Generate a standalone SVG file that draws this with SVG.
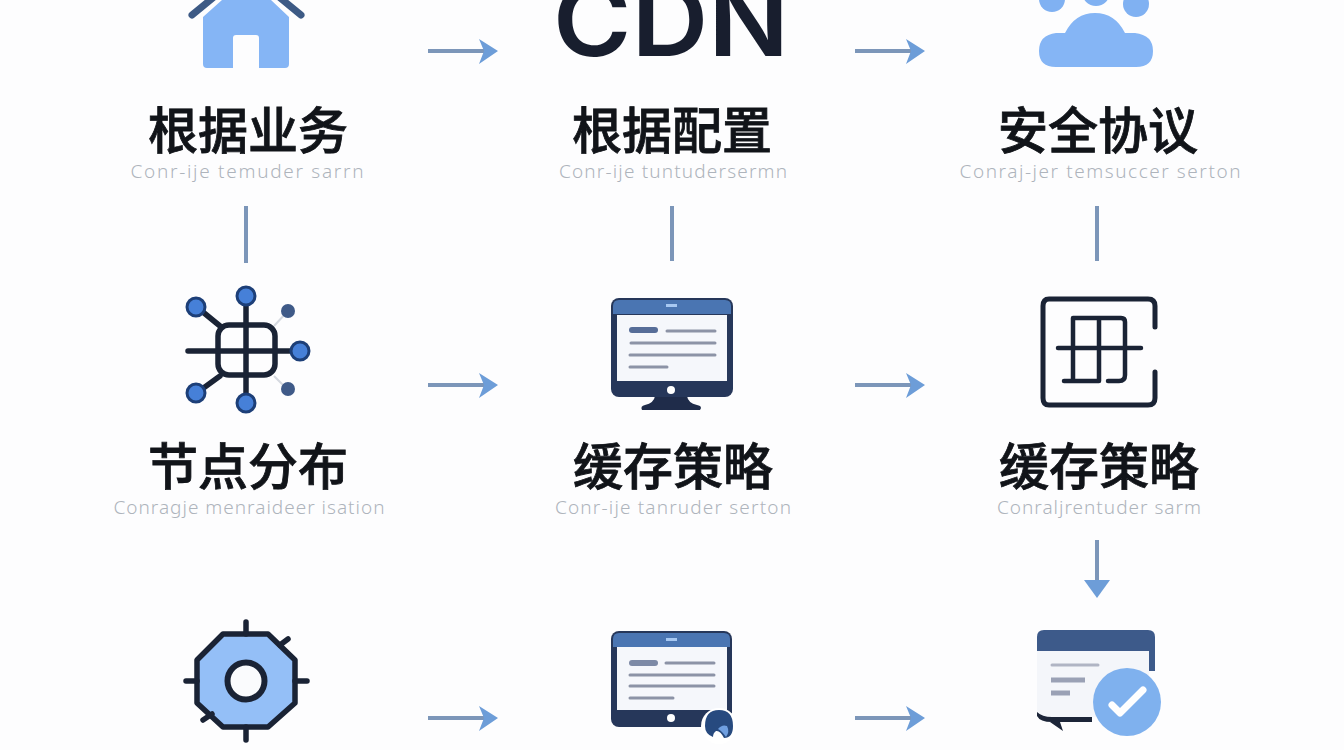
<svg xmlns="http://www.w3.org/2000/svg" width="1344" height="750" viewBox="0 0 1344 750">
<style>
.t{font-family:"Noto Sans CJK SC","Noto Sans",sans-serif;font-size:50px;font-weight:500;fill:#111419;stroke:#111419;stroke-width:.8px;text-anchor:middle}
.s{font-family:"Noto Sans","Liberation Sans",sans-serif;font-size:19px;font-weight:300;fill:#aeb4bc;text-anchor:middle}
.c{fill:none;stroke:#7c96b9;stroke-width:4}
.h{fill:#6d9dd8}
.k{fill:none;stroke:#1a2335;stroke-linecap:round;stroke-linejoin:round}
.g{fill:none;stroke:#8c93a6;stroke-linecap:round}
</style>
<rect width="1344" height="750" fill="#fdfdfe"/>
<g id="connectors">
<path class="c" d="M428 51H488M855 51H914M428 385H488M855 385H914M428 718H488M855 718H914"/>
<path class="h" d="M479 39L498 51L479 64L484 51ZM906 39L925 51L906 64L911 51ZM479 373L498 385L479 398L484 385ZM906 373L925 385L906 398L911 385ZM479 706L498 718L479 731L484 718ZM906 706L925 718L906 731L911 718Z"/>
<path class="c" d="M246 206V263M672 206V261M1097 206V261M1097 540V585"/>
<path class="h" d="M1084 580H1110L1097 598Z"/>
</g>
<g id="n1"><path d="M203 17L222 0H271L289 17V64Q289 68 285 68H259V38Q259 35 256 35H236Q233 35 233 38V68H207Q203 68 203 64Z" fill="#85b5f5"/><path class="k" stroke-width="7" d="M192 15L220 -8M301 15L273 -8" style="stroke:#3d5a85"/><text class="t" x="248" y="149">根据业务</text><text class="s" x="247" y="178" textLength="233" lengthAdjust="spacing">Conr-ije temuder sarrn</text></g>
<g id="n2"><text x="671" y="56" font-family="Inter,'Liberation Sans',sans-serif" font-size="100" font-weight="600" fill="#181e2e" text-anchor="middle" textLength="236" lengthAdjust="spacingAndGlyphs">CDN</text><text class="t" x="672" y="149">根据配置</text><text class="s" x="673" y="178" textLength="228" lengthAdjust="spacing">Conr-ije tuntudersermn</text></g>
<g id="n3"><g fill="#80b1f2"><circle cx="1052" cy="-1" r="13"/><circle cx="1096" cy="-8" r="14"/><circle cx="1136" cy="4" r="13"/></g><path d="M1056 67Q1039 67 1039 51Q1039 35 1056 33H1065Q1075 13 1095 13Q1115 13 1125 33H1135Q1153 35 1153 51Q1153 67 1136 67Z" fill="#85b5f5"/><text class="t" x="1098" y="149">安全协议</text><text class="s" x="1100" y="178" textLength="281" lengthAdjust="spacing">Conraj-jer temsuccer serton</text></g>
<g id="n4"><path d="M274 326L287 312M274 376L287 389" stroke="#d5d9e0" stroke-width="2"/><g class="k" stroke-width="5.5"><rect x="218" y="325" width="57" height="50" rx="11"/><path d="M188 351H300M246 296V404M220 326L198 308M220 376L198 392"/></g><g fill="#4680d8" stroke="#1d3f78" stroke-width="3"><circle cx="196" cy="307" r="9"/><circle cx="246" cy="296" r="9"/><circle cx="300" cy="351" r="9"/><circle cx="196" cy="393" r="9"/><circle cx="246" cy="403" r="9"/></g><circle cx="288" cy="311" r="7" fill="#3f5a88"/><circle cx="288" cy="389" r="7" fill="#3f5a88"/><text class="t" x="248" y="485">节点分布</text><text class="s" x="249" y="514" textLength="271" lengthAdjust="spacing">Conragje menraideer isation</text></g>
<g id="n5"><path d="M655 396Q654 403 645 405Q640 406 642 410H700Q703 406 697 405Q688 403 687 396Z" fill="#1f2c4a"/><rect x="611" y="298" width="122" height="99" rx="8" fill="#26375a"/><path d="M613 314V306Q613 300 619 300H725Q731 300 731 306V314Z" fill="#4a75b2"/><rect x="617" y="315" width="110" height="66" fill="#f5f7fb"/><rect x="666" y="304" width="11" height="3" fill="#a7c8f2"/><rect x="629" y="327" width="29" height="6" rx="3" fill="#566d98"/><path class="g" stroke-width="3" d="M667 331H715M631 343H715M630 355H715M630 367H667"/><circle cx="671" cy="390" r="4" fill="#fff"/><text class="t" x="673" y="485">缓存策略</text><text class="s" x="673" y="514" textLength="236" lengthAdjust="spacing">Conr-ije tanruder serton</text></g>
<g id="n6"><g class="k" stroke-width="5"><path d="M1155 327V306Q1155 299 1148 299H1049Q1043 299 1043 306V398Q1043 405 1049 405H1148Q1155 405 1155 398V372"/></g><g class="k" stroke-width="4.5"><path d="M1058 348H1141M1073 318V381M1099 318V381M1125 322Q1125 318 1121 318H1073M1064 381H1099M1108 381H1119Q1125 381 1125 375V322"/></g><text class="t" x="1099" y="485">缓存策略</text><text class="s" x="1099" y="514" textLength="204" lengthAdjust="spacing">Conraljrentuder sarm</text></g>
<g id="n7"><path d="M223 634H268L295 660V703L268 727H223L197 703V660Z" fill="#94bff7" stroke="#1a2335" stroke-width="5.5" stroke-linejoin="round"/><circle cx="246" cy="681" r="18.5" fill="#fafbfd" stroke="#1a2335" stroke-width="6"/><path class="k" stroke-width="5.5" d="M246 622V634M186 681H197M295 681H307M246 727V740M280 645L288 639M212 714L203 720"/></g>
<g id="n8"><rect x="611" y="631" width="121" height="96" rx="8" fill="#26375a"/><path d="M613 647V639Q613 633 619 633H724Q730 633 730 639V647Z" fill="#4a75b2"/><rect x="617" y="647" width="110" height="63" fill="#f5f7fb"/><rect x="666" y="638" width="11" height="3" fill="#a7c8f2"/><rect x="629" y="660" width="29" height="6" rx="3" fill="#7d8aa6"/><path class="g" stroke-width="3" d="M666 663H714M630 675H714M630 686H714M630 698H673"/><circle cx="671" cy="718" r="4" fill="#fff"/><circle cx="719" cy="726" r="18" fill="#fff"/><path d="M705 726Q705 710 719 710Q733 710 733 726Q733 738 724 738Q720 730 716 731Q713 733 713 737Q705 734 705 726Z" fill="#274a7f"/><path d="M718 729Q722 724 727 726Q730 732 726 737Q722 731 718 729Z" fill="#6f9fe0"/></g>
<g id="n9"><path d="M1037 651V637Q1037 630 1044 630H1148Q1155 630 1155 637V671H1149V651Z" fill="#3d5a8a"/><rect x="1037" y="651" width="112" height="66" fill="#f4f6fa"/><path d="M1037 712Q1042 717 1052 717H1092V722H1052Q1040 722 1037 716ZM1050 722L1063 731L1060 722Z" fill="#1c2538"/><path class="g" stroke-width="3" d="M1052 665H1098" style="stroke:#b0b5c4"/><path class="g" stroke-width="5" d="M1051 680H1085M1051 693H1070" style="stroke-linecap:butt;stroke:#9aa1b5"/><circle cx="1127" cy="702" r="34" fill="#7fb1ee"/><path d="M1112 705L1120 713L1143 690" fill="none" stroke="#fff" stroke-width="7" stroke-linecap="round" stroke-linejoin="round"/></g>
</svg>
